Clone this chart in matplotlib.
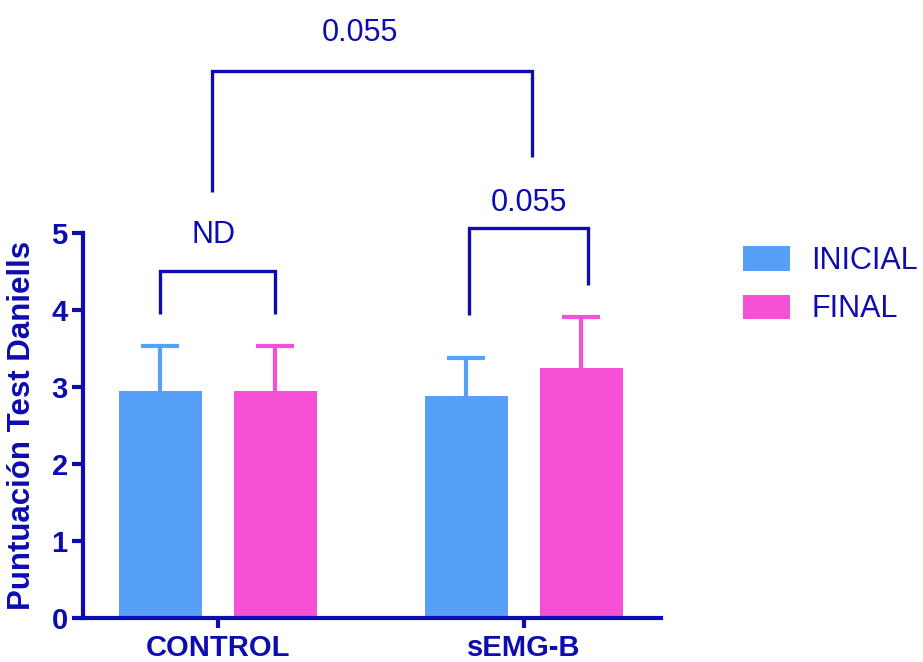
import matplotlib
matplotlib.use("Agg")
import matplotlib.pyplot as plt
import numpy as np

# data
groups = ['CONTROL', 'sEMG-B']
series = ['INICIAL', 'FINAL']
inicial_mean = [2.95, 2.88]
inicial_sd = [0.58, 0.50]
final_mean = [2.95, 3.24]
final_sd = [0.58, 0.67]

# p-value brackets: (x left, x right, top, left leg end, right leg end, label, label x, label baseline)
brackets = [
    (-0.19, 0.186, 4.5, 3.95, 3.95, 'ND', -0.015, 4.87),
    (0.82, 1.209, 5.06, 3.93, 4.33, '0.055', 1.015, 5.29),
    (-0.021, 1.027, 7.10, 5.53, 5.99, '0.055', 0.465, 7.50),
]

navy = '#0c0cb0'
blue = '#56a0fa'
pink = '#f550d6'

plt.rcParams['font.family'] = ['Liberation Sans', 'DejaVu Sans']

fig = plt.figure(figsize=(9.23, 6.62), dpi=100)
ax = fig.add_axes([83 / 923, 1 - 617.7 / 662, (660.7 - 83) / 923, (617.7 - 233) / 662])

x = np.arange(len(groups))
w = 0.27
off = 0.188


def bars_with_sd(pos, mean, sd, color, label):
    ax.bar(pos, mean, w, color=color, label=label, zorder=2)
    top = np.array(mean) + np.array(sd)
    ax.vlines(pos, mean, top, color=color, lw=3, zorder=1)
    ax.plot(pos, top, ls='none', marker='_', ms=27, mew=3, color=color, zorder=1)


bars_with_sd(x - off, inicial_mean, inicial_sd, blue, series[0])
bars_with_sd(x + off, final_mean, final_sd, pink, series[1])

for x0, x1, top, l0, l1, txt, tx, ty in brackets:
    ax.plot([x0, x0, x1, x1], [l0, top, top, l1], color=navy, lw=2.4,
            clip_on=False, solid_capstyle='butt', solid_joinstyle='miter')
    ax.text(tx, ty, txt, color=navy, fontsize=22, ha='center', va='baseline')

ax.set_xlim(-0.441, 1.447)
ax.set_ylim(0, 5)
ax.set_yticks([0, 1, 2, 3, 4, 5])
ax.set_xticks(x)
ax.set_xticklabels(groups)

for s in ['top', 'right']:
    ax.spines[s].set_visible(False)
for s in ['left', 'bottom']:
    ax.spines[s].set_color(navy)
    ax.spines[s].set_linewidth(3)
ax.tick_params(axis='y', colors=navy, width=3, length=8, pad=3, labelsize=21)
ax.tick_params(axis='x', colors=navy, width=3, length=7, pad=5, labelsize=21)
for lab in ax.get_xticklabels() + ax.get_yticklabels():
    lab.set_fontweight('bold')

ax.set_ylabel('Puntuación Test Daniells', color=navy, fontsize=22.5, fontweight='bold')
ax.yaxis.set_label_coords(-0.079, 0.5)

leg = ax.legend(loc='upper left', bbox_to_anchor=(743 / 923, 1 - 246 / 662),
                bbox_transform=fig.transFigure, frameon=False, fontsize=22,
                handlelength=1.54, handleheight=0.85, handletextpad=0.7,
                labelspacing=0.6, borderpad=0, borderaxespad=0)
for t in leg.get_texts():
    t.set_color(navy)

fig.savefig('out.png', dpi=100)
